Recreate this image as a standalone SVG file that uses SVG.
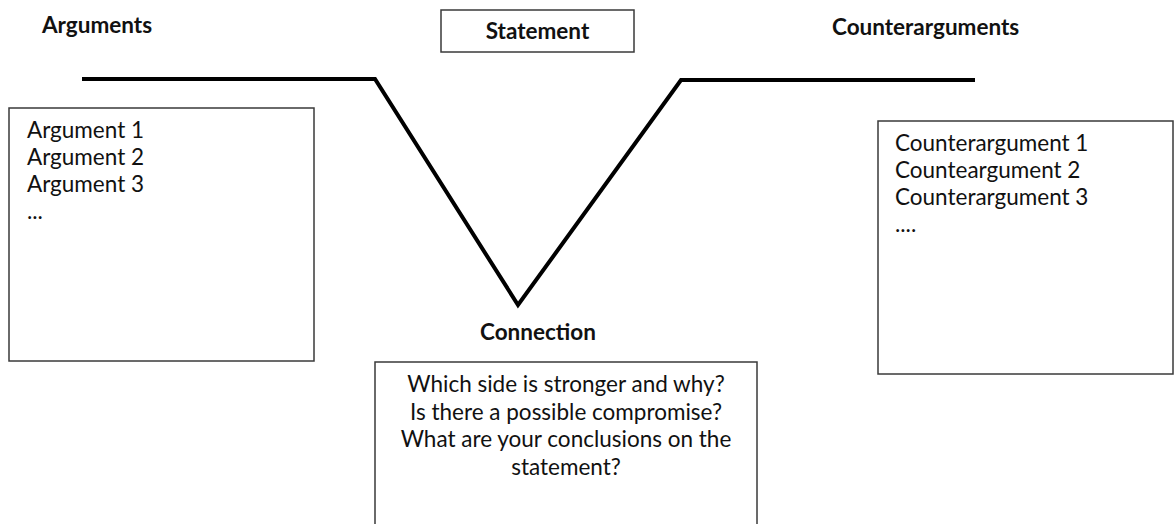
<svg xmlns="http://www.w3.org/2000/svg" width="1174" height="524" viewBox="0 0 1174 524">
<style>
.box{fill:#fff;stroke:#3a3a3a;stroke-width:1.5}
.t{font-family:Lato,"Open Sans","Liberation Sans",sans-serif;font-size:22.5px;fill:#111}
.b{font-family:Lato,"Open Sans","Liberation Sans",sans-serif;font-size:22.5px;font-weight:bold;fill:#111}
.ln{fill:none;stroke:#000;stroke-width:4;stroke-linejoin:miter}
</style>
<rect width="1174" height="524" fill="#fff"/>
<g id="connectors">
<path class="ln" d="M82 79 H375 L518 305 L681 80 H975"/>
</g>
<g id="arguments-title"><text class="b" x="42" y="33">Arguments</text></g>
<g id="statement">
<rect class="box" x="441" y="10" width="193" height="42"/>
<text class="b" x="537.5" y="39" text-anchor="middle">Statement</text>
</g>
<g id="counterarguments-title"><text class="b" x="832" y="35">Counterarguments</text></g>
<g id="arguments">
<rect class="box" x="9" y="108" width="305" height="253"/>
<text class="t" x="27" y="138">Argument 1</text>
<text class="t" x="27" y="165">Argument 2</text>
<text class="t" x="27" y="192">Argument 3</text>
<text class="t" x="27" y="219">...</text>
</g>
<g id="counterarguments">
<rect class="box" x="878" y="121" width="295" height="253"/>
<text class="t" x="895" y="151">Counterargument 1</text>
<text class="t" x="895" y="178">Counteargument 2</text>
<text class="t" x="895" y="205">Counterargument 3</text>
<text class="t" x="895" y="232">....</text>
</g>
<g id="connection">
<text class="b" x="538" y="340" text-anchor="middle">Connection</text>
<rect class="box" x="375" y="362" width="382" height="170"/>
<text class="t" x="566" y="392" text-anchor="middle">Which side is stronger and why?</text>
<text class="t" x="566" y="420" text-anchor="middle">Is there a possible compromise?</text>
<text class="t" x="566" y="447" text-anchor="middle">What are your conclusions on the</text>
<text class="t" x="566" y="475" text-anchor="middle">statement?</text>
</g>
</svg>
